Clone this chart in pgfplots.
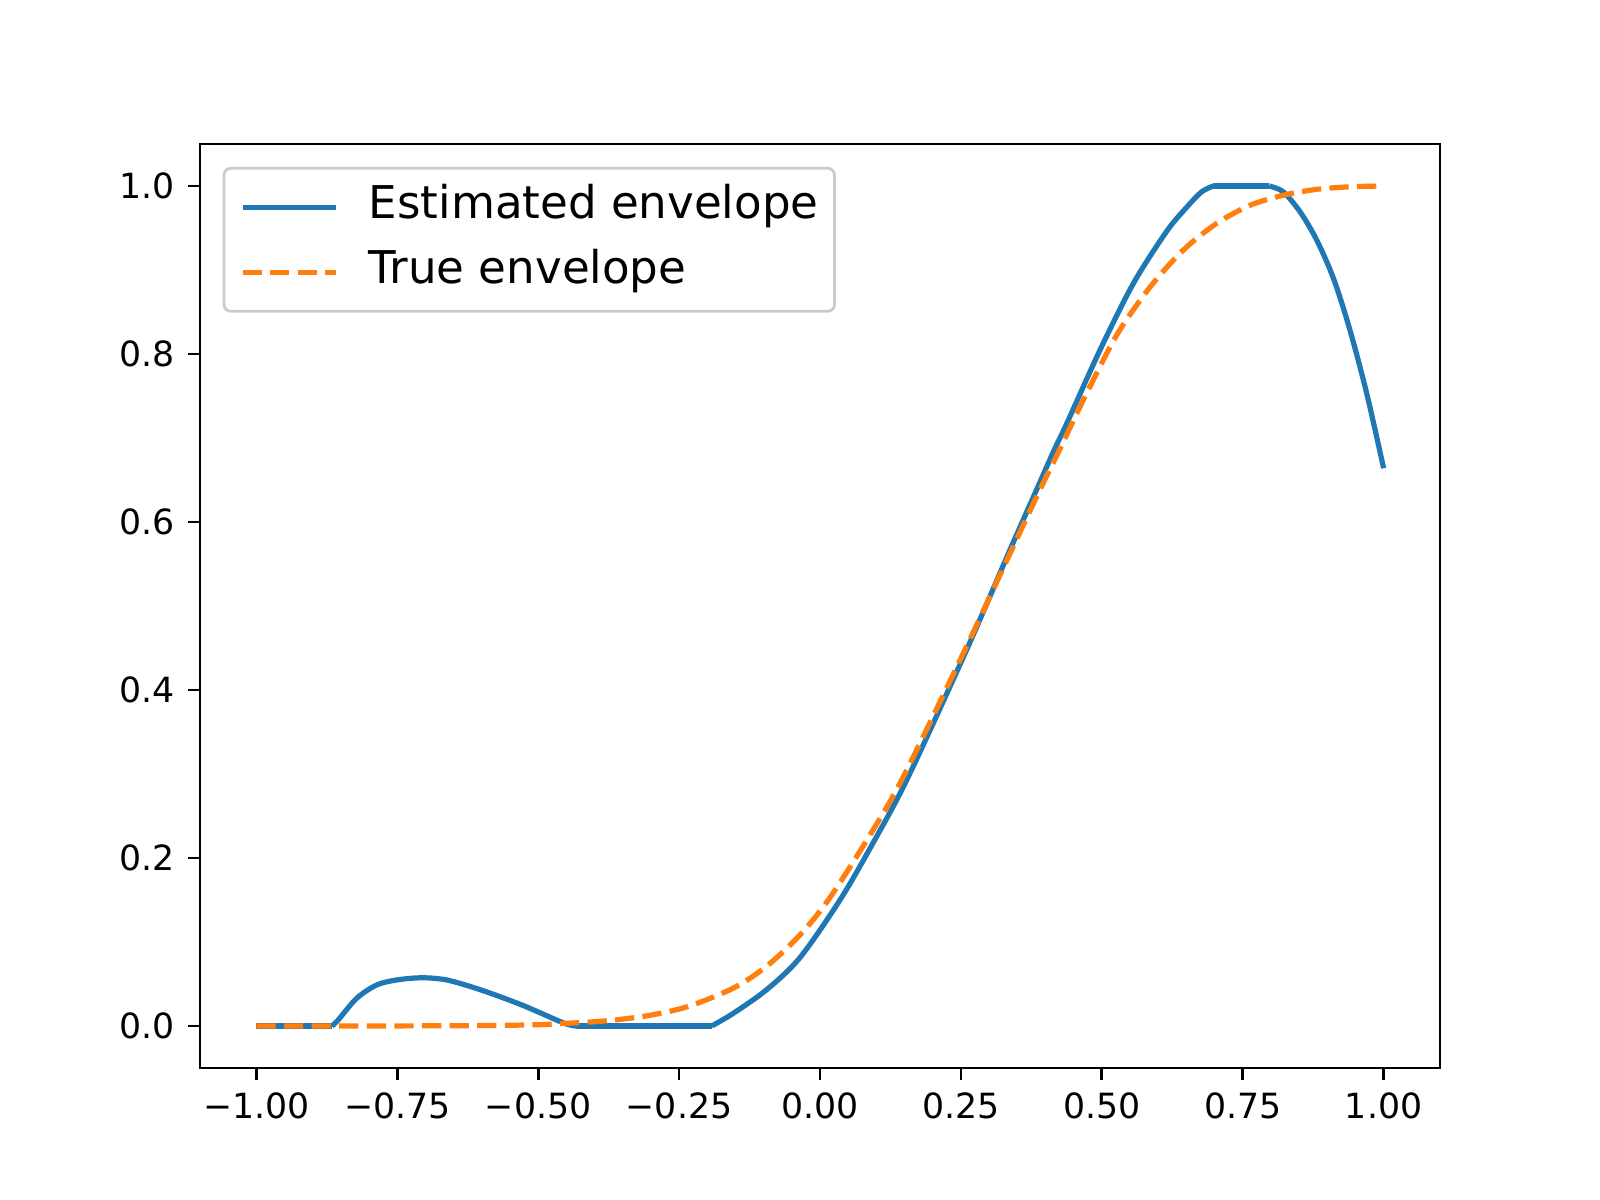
\documentclass[border=0pt]{standalone}
\usepackage{pgfplots}
\pgfplotsset{compat=1.18}
\usepackage{fontspec}
\setmainfont{DejaVu Sans}
\definecolor{tabblue}{HTML}{1F77B4}
\definecolor{taborange}{HTML}{FF7F0E}
\begin{document}
\begin{tikzpicture}
\useasboundingbox[fill=white] (0,0) rectangle (460.8pt,345.6pt);
\begin{axis}[
  at={(57.6pt,38.02pt)}, anchor=south west,
  scale only axis, width=357.12pt, height=266.11pt,
  xmin=-1.1, xmax=1.1, ymin=-0.05, ymax=1.05,
  axis line style={line width=0.8pt},
  tick align=outside, major tick length=3.5pt,
  every tick/.style={black, line width=0.8pt},
  xtick={-1,-0.75,-0.5,-0.25,0,0.25,0.5,0.75,1},
  xticklabels={−1.00,−0.75,−0.50,−0.25,0.00,0.25,0.50,0.75,1.00},
  ytick={0,0.2,0.4,0.6,0.8,1},
  yticklabels={0.0,0.2,0.4,0.6,0.8,1.0},
  xtick pos=bottom, ytick pos=left,
  ticklabel style={font=\fontsize{10}{12}\selectfont},
  xticklabel style={inner sep=0pt, anchor=north, yshift=-3.5pt},
  yticklabel style={inner sep=0pt, anchor=east, xshift=-3.5pt},
  legend style={at={(0.0182,0.9752)}, anchor=north west,
    font=\fontsize{13}{15.6}\selectfont,
    draw=black!20, line width=0.8pt, rounded corners=2pt,
    fill=white, fill opacity=0.8, text opacity=1,
    inner xsep=4.6pt, inner ysep=5.0pt,
    row sep=6.2pt, column sep=8.6pt,
    nodes={inner sep=0pt, text height=9.5pt, text depth=3pt}},
  legend cell align=left,
  legend image code/.code={\draw[#1] (0pt,0pt) -- (27pt,0pt);},
]
% ---- Estimated envelope (blue), piecewise
\addplot[tabblue, line width=1.5pt, forget plot] coordinates {
(-1,0) (-0.866,0)
};
\addplot[tabblue, line width=1.5pt, smooth, forget plot] coordinates {
(-0.866,0) (-0.855,0.007) (-0.822,0.033) (-0.786,0.049) (-0.749,0.055)
(-0.705,0.0574) (-0.661,0.0546) (-0.602,0.043) (-0.529,0.025) (-0.455,0.0036)
(-0.433,0)
};
\addplot[tabblue, line width=1.5pt, forget plot] coordinates {
(-0.433,0) (-0.192,0)
};
\addplot[tabblue, line width=1.5pt, smooth, forget plot] coordinates {
(-0.192,0) (-0.154,0.015) (-0.095,0.043) (-0.036,0.081) (0.0355,0.150)
(0.0917,0.215) (0.154,0.293) (0.260,0.4476) (0.337,0.5667)
(0.384,0.638) (0.415,0.685) (0.438,0.7175) (0.497,0.805) (0.556,0.884)
(0.615,0.946) (0.651,0.975) (0.677,0.993) (0.698,1.0)
};
\addplot[tabblue, line width=1.5pt, forget plot] coordinates {
(0.698,1.0) (0.797,1.0)
};
\addplot[tabblue, line width=1.5pt, smooth, forget plot] coordinates {
(0.797,1.0) (0.822,0.993) (0.852,0.969) (0.881,0.936) (0.911,0.890) (0.940,0.829)
(0.970,0.753) (1.0,0.664)
};
% ---- True envelope (orange)
\addplot[taborange, line width=1.5pt, dash pattern=on 5.55pt off 2.4pt, smooth, forget plot] coordinates {
(-1,0) (-0.8,0) (-0.6,0.0005) (-0.5,0.0015) (-0.455,0.003) (-0.382,0.006)
(-0.308,0.012) (-0.235,0.023) (-0.154,0.045) (-0.095,0.071) (-0.036,0.108)
(0.0147,0.150) (0.080,0.218) (0.145,0.293) (0.257,0.4476)
(0.340,0.5667) (0.390,0.638) (0.430,0.693) (0.467,0.745) (0.526,0.822)
(0.586,0.880) (0.645,0.924) (0.704,0.9556) (0.763,0.977) (0.822,0.989)
(0.881,0.996) (0.94,0.999) (1.0,1.0)
};
\addlegendimage{tabblue, line width=1.5pt}
\addlegendentry{Estimated envelope}
\addlegendimage{taborange, line width=1.5pt, dash pattern=on 5.55pt off 2.4pt}
\addlegendentry{True envelope}
\end{axis}
\end{tikzpicture}
\end{document}
